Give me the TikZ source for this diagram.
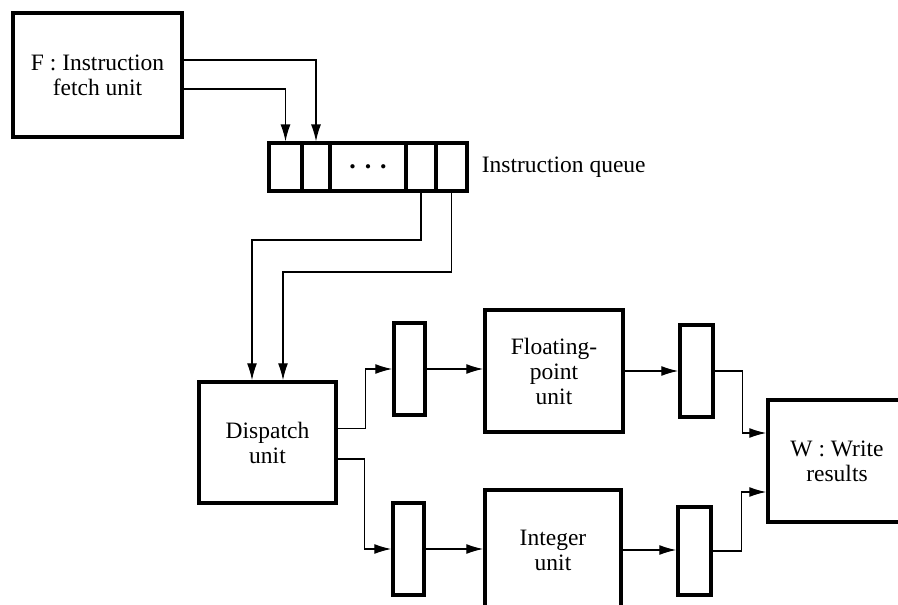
\documentclass[tikz,border=0pt]{standalone}
\usepackage{fontspec}
\setmainfont{Liberation Serif}
\usetikzlibrary{arrows.meta,positioning}

\tikzset{
  unitbox/.style={draw, line width=3.5pt, align=center, inner sep=0pt},
  slot/.style={draw, line width=3.5pt, minimum width=31pt, minimum height=92pt, inner sep=0pt},
  cell/.style={draw, line width=3.2pt, minimum height=48pt, inner sep=0pt},
  link/.style={line width=1.3pt, -{Latex[length=17pt,width=10pt]}}
}

\begin{document}
\begin{tikzpicture}[x=1pt,y=-1pt,font=\fontsize{23.5}{25}\selectfont]
            \useasboundingbox (0,0) rectangle (898,605);
            \node[unitbox, minimum width=169pt, minimum height=124pt] (fetch) at (97.5,75) {F : Instruction\\fetch unit};
            \node[cell, minimum width=33pt] (q1) at (285.5,167) {};
            \node[cell, minimum width=28pt] (q2) at (316,167) {};
            \node[cell, minimum width=76pt] (q3) at (368,167) {\fontsize{11}{12}\selectfont$\bullet$\hspace{10pt}$\bullet$\hspace{10pt}$\bullet$};
            \node[cell, minimum width=30pt] (q4) at (421,167) {};
            \node[cell, minimum width=31pt] (q5) at (451.5,167) {};
            \node[right=13pt of q5, inner sep=0pt] (qlabel) {Instruction queue};
            \node[unitbox, minimum width=137pt, minimum height=121pt] (dispatch) at (267.5,442.5) {Dispatch\\unit};
            \node[slot] (b1) at (409.5,369) {};
            \node[slot] (b2) at (408.5,549) {};
            \node[unitbox, minimum width=138pt, minimum height=122pt] (fp) at (554,371) {Floating-\\point\\unit};
            \node[unitbox, minimum width=136pt, minimum height=120pt] (int) at (553,550) {Integer\\unit};
            \node[slot, minimum width=33pt] (b3) at (696.5,371) {};
            \node[slot, minimum width=33pt, minimum height=88pt] (b4) at (694.5,551) {};
            \node[unitbox, minimum width=138pt, minimum height=122pt] (write) at (837,461) {W : Write\\results};
            \coordinate (bend1) at (252,240);
            \coordinate (bend2) at (283,272);
            \draw[link] ([yshift=15pt]fetch.east) -| (q2.north);
            \draw[link] ([yshift=-14pt]fetch.east) -| (q1.north);
            \draw[link] (q4.south) |- (bend1) -- (bend1 |- dispatch.north);
            \draw[link] (q5.south) |- (bend2) -- (bend2 |- dispatch.north);
            \draw[link] ([yshift=14pt]dispatch.east) -- ++(28pt,0) |- (b1.west);
            \draw[link] ([yshift=-16.5pt]dispatch.east) -- ++(27pt,0) |- (b2.west);
            \draw[link] (b1.east) -- (b1.east -| fp.west);
            \draw[link] (b2.east) -- (b2.east -| int.west);
            \draw[link] (fp.east) -- (fp.east -| b3.west);
            \draw[link] (int.east) -- (int.east -| b4.west);
            \draw[link] (b3.east) -- ++(28pt,0) |- ([yshift=28pt]write.west);
            \draw[link] (b4.east) -- ++(29pt,0) |- ([yshift=-31pt]write.west);
        \end{tikzpicture}
\end{document}
